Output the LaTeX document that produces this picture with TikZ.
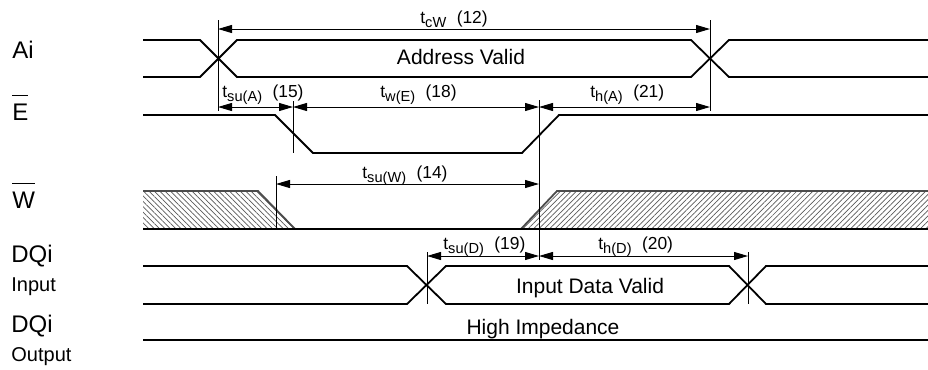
\documentclass[tikz,border=0pt]{standalone}
\usepackage{fontspec}
\setmainfont{Liberation Sans}
\usetikzlibrary{positioning,arrows.meta,patterns.meta}
\newcommand{\tdel}[2]{t\raisebox{-0.45ex}{\fontsize{7.3}{8}\selectfont #1}\hspace{0.6em}(#2)}
\newcommand{\barsig}[1]{$\overline{\rule{0pt}{0.9em}\mbox{#1}}$}

\begin{document}
\begin{tikzpicture}[x=0.5pt,y=-0.5pt,
    sig/.style={line width=0.9pt},
    edgeline/.style={line width=0.5pt},
    dim/.style={line width=0.5pt,{Triangle[length=7pt,width=4pt]}-{Triangle[length=7pt,width=4pt]}},
    tlab/.style={anchor=base west,inner sep=0pt,font=\fontsize{8.7}{10}\selectfont},
    sname/.style={anchor=base west,inner sep=0pt,font=\fontsize{12}{14}\selectfont},
    ssub/.style={inner sep=0pt,font=\fontsize{10}{12}\selectfont},
    val/.style={anchor=base,inner sep=0pt,font=\fontsize{10.5}{12}\selectfont},
    hatchl/.style={pattern={Lines[angle=-45,distance=1.9pt,line width=0.35pt]},pattern color=gray!70!black},
    hatchr/.style={pattern={Lines[angle=45,distance=1.9pt,line width=0.35pt]},pattern color=gray!70!black}]
  \useasboundingbox (0,0) rectangle (928,370);

  \node[sname] (ai) at (12,58) {Ai};
  \node[sname] (e) at (12,120) {\barsig{E}};
  \node[sname] (w) at (12,208) {\barsig{W}};
  \node[sname] (dq1) at (11,262) {DQi};
  \node[ssub, below=14.5pt of dq1.base west, anchor=base west] (in) {Input};
  \node[sname] (dq2) at (11,332) {DQi};
  \node[ssub, below=14.5pt of dq2.base west, anchor=base west] (out) {Output};

  \draw[sig] (143,40) -- (200,40) -- (237,77) -- (691,77) -- (729,40) -- (928,40);
  \draw[sig] (143,77) -- (200,77) -- (237,40) -- (691,40) -- (729,77) -- (928,77);
  \node[val] (addr) at (461,64) {Address Valid};

  \draw[sig] (143,115) -- (275,115) -- (313,153) -- (522,153) -- (559,115) -- (928,115);

  \fill[hatchl] (143,191) -- (258,191) -- (295,229) -- (143,229) -- cycle;
  \fill[hatchr] (521,229) -- (557,191) -- (928,191) -- (928,229) -- cycle;
  \draw[sig,gray!60!black] (143,191) -- (258,191) -- (295,229);
  \draw[sig,gray!60!black] (521,229) -- (557,191) -- (928,191);
  \draw[sig] (143,229) -- (928,229);

  \draw[sig] (143,266) -- (407,266) -- (446,304) -- (729,304) -- (766,266) -- (928,266);
  \draw[sig] (143,304) -- (407,304) -- (446,266) -- (729,266) -- (766,304) -- (928,304);
  \node[val] (din) at (590,293) {Input Data Valid};

  \draw[sig] (143,340) -- (928,340);
  \node[val] (hiz) at (543,334.5) {High Impedance};

  \draw[edgeline] (218,20) -- (218,111);
  \draw[edgeline] (710,20) -- (710,111);
  \draw[edgeline] (293,101) -- (293,153);
  \draw[edgeline] (539,100) -- (539,260);
  \draw[edgeline] (276,176) -- (276,229);
  \draw[edgeline] (427,252) -- (427,304);
  \draw[edgeline] (748,252) -- (748,304);

  \coordinate (cw0) at (218,29);
  \coordinate (cw1) at (710,29);
  \coordinate (ea0) at (218,107);
  \coordinate (ea1) at (293,107);
  \coordinate (ea2) at (539,107);
  \coordinate (ea3) at (710,107);
  \coordinate (wa0) at (276,184);
  \coordinate (wa1) at (539,184);
  \coordinate (da0) at (427,256);
  \coordinate (da1) at (539,256);
  \coordinate (da2) at (748,256);

  \draw[dim] (cw0) -- (cw1);
  \draw[dim] (ea0) -- (ea1);
  \draw[dim] (ea1) -- (ea2);
  \draw[dim] (ea2) -- (ea3);
  \draw[dim] (wa0) -- (wa1);
  \draw[dim] (da0) -- (da1);
  \draw[dim] (da1) -- (da2);

  \node[tlab] (tcw) at (420,23) {\tdel{cW}{12}};
  \node[tlab] (tsua) at (222,97) {\tdel{su(A)}{15}};
  \node[tlab] (twe) at (380,97) {\tdel{w(E)}{18}};
  \node[tlab] (tha) at (590,97) {\tdel{h(A)}{21}};
  \node[tlab] (tsuw) at (362,178) {\tdel{su(W)}{14}};
  \node[tlab] (tsud) at (443,249) {\tdel{su(D)}{19}};
  \node[tlab] (thd) at (598,249) {\tdel{h(D)}{20}};
\end{tikzpicture}
\end{document}
